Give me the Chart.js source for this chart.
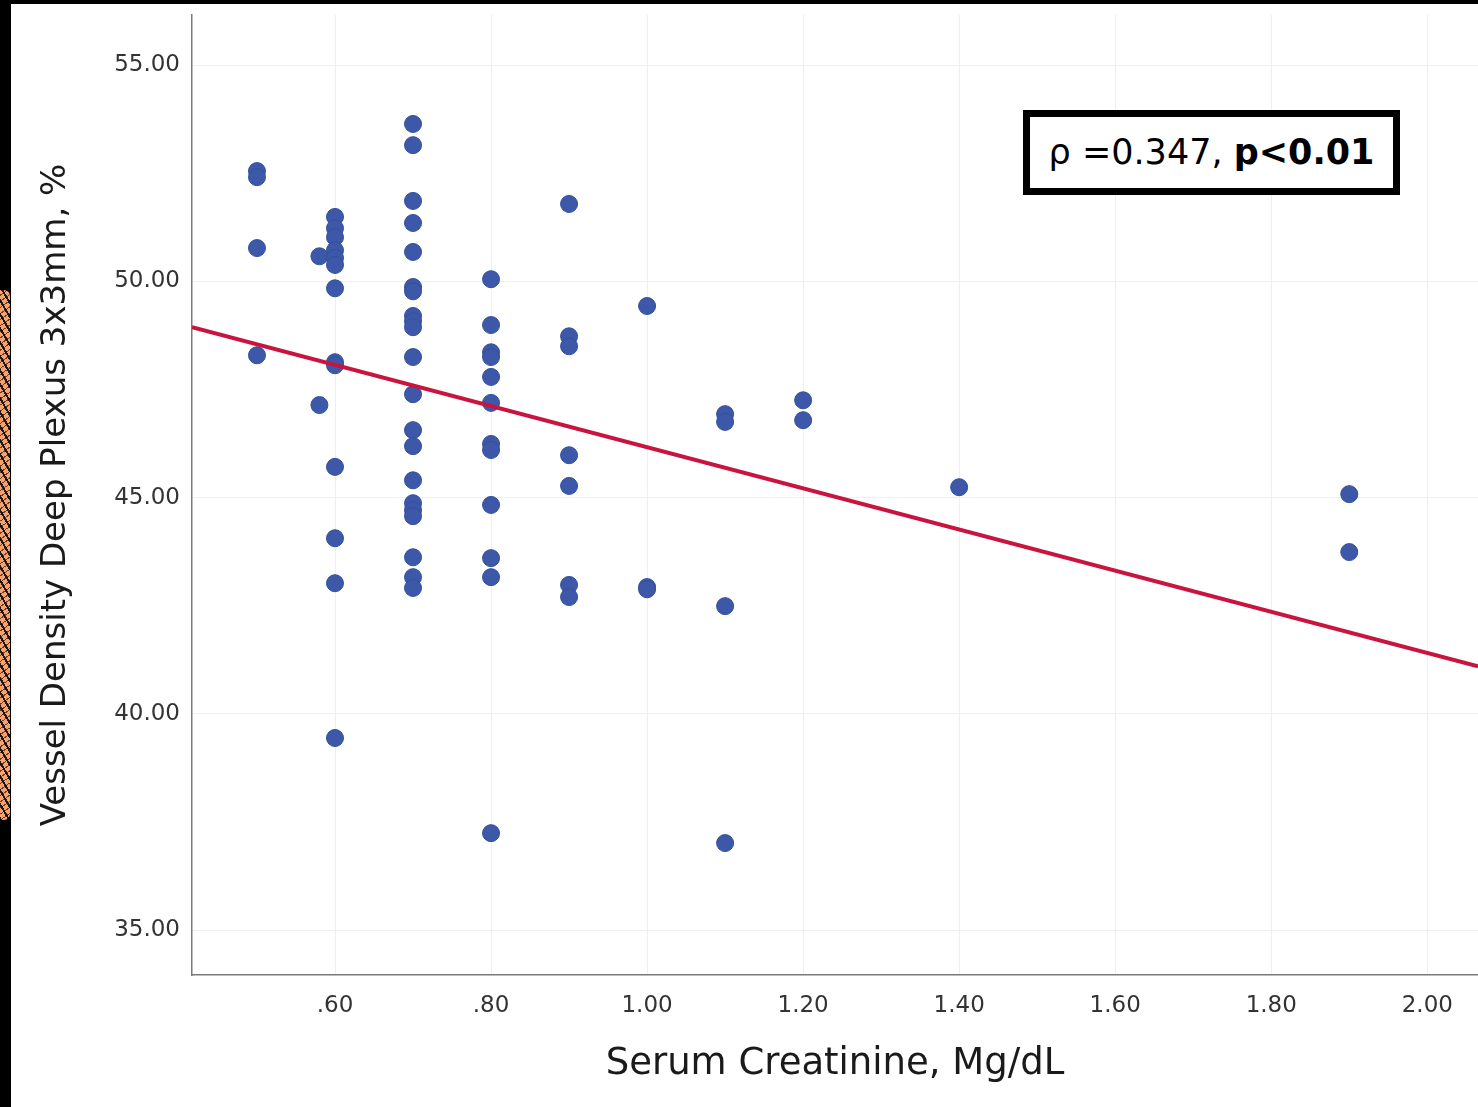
<!DOCTYPE html>
<html>
<head>
<meta charset="utf-8">
<script src="https://cdn.jsdelivr.net/npm/chart.js@4"></script>
<style>
  html, body { margin: 0; padding: 0; background: #000; width: 1478px; height: 1107px; overflow: hidden; }
  #paper { position: absolute; left: 11px; top: 4px; width: 1467px; height: 1103px; background: #fff; }
  #strip {
    position: absolute; left: 0; top: 290px; width: 10px; height: 530px;
    background-color: #f6a270;
    background-image: repeating-linear-gradient(60deg, rgba(0,0,0,0.85) 0 2px, transparent 2px 7px),
                      repeating-linear-gradient(-35deg, rgba(0,0,0,0.6) 0 1px, transparent 1px 5px);
    border-radius: 0 6px 6px 0;
  }
  #stat {
    position: absolute; left: 1023px; top: 110px; width: 363px; height: 71px;
    border: 7px solid #000; background: #fff; color: #000;
    font-family: "DejaVu Sans", sans-serif; font-size: 35px;
    text-align: center; line-height: 71px;
  }
</style>
</head>
<body>
<div id="strip"></div>
<div id="paper"><canvas id="scatter" width="1467" height="1103"></canvas></div>
<div id="stat">ρ =0.347, <b>p&lt;0.01</b></div>
<script>
// serum creatinine (mg/dL) and deep plexus vessel density (%), one pair per patient
const creatinine = [
  0.50, 0.50, 0.50, 0.50,
  0.58, 0.58,
  0.60, 0.60, 0.60, 0.60, 0.60, 0.60, 0.60, 0.60, 0.60, 0.60, 0.60, 0.60, 0.60,
  0.70, 0.70, 0.70, 0.70, 0.70, 0.70, 0.70, 0.70, 0.70, 0.70, 0.70, 0.70, 0.70, 0.70, 0.70, 0.70, 0.70, 0.70, 0.70, 0.70, 0.70,
  0.80, 0.80, 0.80, 0.80, 0.80, 0.80, 0.80, 0.80, 0.80, 0.80, 0.80, 0.80,
  0.90, 0.90, 0.90, 0.90, 0.90, 0.90, 0.90,
  1.00, 1.00, 1.00,
  1.10, 1.10, 1.10, 1.10,
  1.20, 1.20,
  1.40,
  1.90, 1.90
];
const vesselDensity = [
  52.55, 52.41, 50.77, 48.29,
  50.58, 47.14,
  51.49, 51.23, 51.02, 50.72, 50.54, 50.38, 49.84, 48.13, 48.06, 45.71, 44.06, 43.02, 39.44,
  53.64, 53.15, 51.86, 51.35, 50.68, 49.87, 49.77, 49.20, 49.08, 48.94, 48.25, 47.39, 46.56, 46.19, 45.40, 44.87, 44.71, 44.57, 43.62, 43.16, 42.91,
  50.05, 48.99, 48.36, 48.25, 47.79, 47.19, 46.24, 46.10, 44.83, 43.60, 43.16, 37.24,
  51.79, 48.73, 48.50, 45.98, 45.27, 42.98, 42.70,
  49.43, 42.93, 42.88,
  46.93, 46.75, 42.49, 37.01,
  47.25, 46.79,
  45.24,
  45.08, 43.74
];

// fit line end points
const fitX = [0.4167, 2.065];
const fitY = [48.94, 41.10];

const xTicks = [0.6, 0.8, 1.0, 1.2, 1.4, 1.6, 1.8, 2.0];
const xTickLabels = ['.60', '.80', '1.00', '1.20', '1.40', '1.60', '1.80', '2.00'];
const yTicks = [35, 40, 45, 50, 55];
const yTickLabels = ['35.00', '40.00', '45.00', '50.00', '55.00'];

const points = creatinine.map((x, i) => ({x: x, y: vesselDensity[i]}));
const fit = fitX.map((x, i) => ({x: x, y: fitY[i]}));

const tickFont = {family: 'DejaVu Sans', size: 23};

const ctx = document.getElementById('scatter');
new Chart(ctx, {
    type: 'scatter',
    data: {
        datasets: [{
            type: 'line',
            data: fit,
            borderColor: '#c8143e',
            borderWidth: 4,
            pointRadius: 0,
            fill: false,
            order: 0
        }, {
            data: points,
            backgroundColor: '#3d58a8',
            borderColor: '#33509c',
            borderWidth: 1,
            pointRadius: 8.5,
            order: 1
        }]
    },
    options: {
        responsive: false,
        animation: false,
        layout: {autoPadding: false, padding: {left: 0, top: 11, right: 0, bottom: 0}},
        plugins: {legend: {display: false}, tooltip: {enabled: false}},
        scales: {
            x: {
                type: 'linear',
                min: 0.4167,
                max: 2.065,
                afterBuildTicks: s => { s.ticks = xTicks.map(v => ({value: v})); },
                afterFit: s => { s.height = 132; s.paddingLeft = 0; s.paddingRight = 0; },
                grid: {color: '#efefef', drawTicks: false},
                border: {color: '#7a7a7a', width: 1.5},
                ticks: {
                    autoSkip: false,
                    maxRotation: 0,
                    padding: 17,
                    color: '#333',
                    font: tickFont,
                    callback: v => xTickLabels[xTicks.indexOf(v)]
                },
                title: {
                    display: true,
                    text: 'Serum Creatinine, Mg/dL',
                    color: '#1a1a1a',
                    font: {family: 'DejaVu Sans', size: 37},
                    padding: {top: 0, bottom: 20}
                }
            },
            y: {
                min: 33.96,
                max: 56.16,
                afterBuildTicks: s => { s.ticks = yTicks.map(v => ({value: v})); },
                afterFit: s => { s.width = 181; s.paddingTop = 0; s.paddingBottom = 0; },
                grid: {color: '#efefef', drawTicks: false},
                border: {color: '#7a7a7a', width: 1.5},
                ticks: {
                    autoSkip: false,
                    padding: 12,
                    color: '#333',
                    font: tickFont,
                    callback: v => yTickLabels[yTicks.indexOf(v)]
                },
                title: {
                    display: true,
                    text: 'Vessel Density Deep Plexus 3x3mm, %',
                    color: '#1a1a1a',
                    font: {family: 'DejaVu Sans', size: 34},
                    padding: {top: 25, bottom: 0}
                }
            }
        }
    }
});
</script>
</body>
</html>
